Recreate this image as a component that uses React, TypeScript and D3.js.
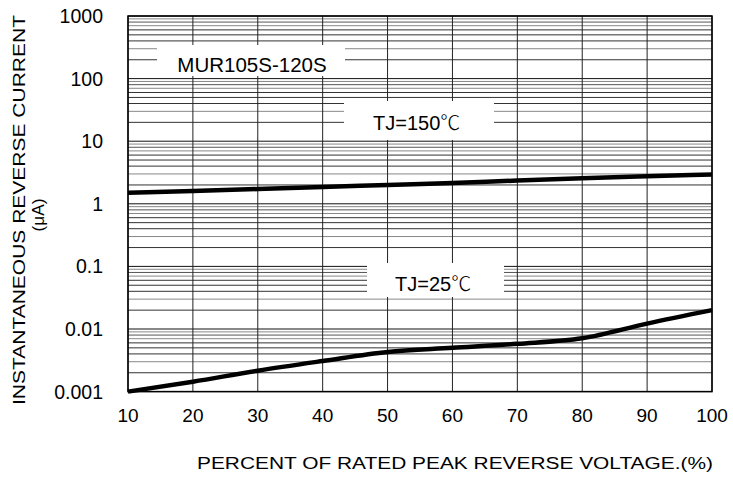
import React from 'react';
import * as d3 from 'd3';

// percent of rated peak reverse voltage
const voltage = [10, 20, 30, 40, 50, 60, 70, 80, 90, 100];
// reverse current (uA)
const tj150 = [1.5, 1.6, 1.72, 1.85, 2.0, 2.15, 2.35, 2.55, 2.75, 2.95];
const tj25 = [0.001, 0.00144, 0.00216, 0.00308, 0.0043, 0.005, 0.0058, 0.0071, 0.0122, 0.02];
const xTicks = [10, 20, 30, 40, 50, 60, 70, 80, 90, 100];
const yTicks = [0.001, 0.01, 0.1, 1, 10, 100, 1000];
const yTickLabels = ['0.001', '0.01', '0.1', '1', '10', '100', '1000'];

const font = '"Liberation Sans", Arial, sans-serif';
const cjk = '"Noto Sans CJK SC", sans-serif';

// 小刻度线颜色
const minorColor: Record<number, string> = {
  2: '#333', 3: '#888', 4: '#333', 5: '#333', 6: '#333', 7: '#888', 8: '#555', 9: '#888'
};

const left = 128;
const right = 712;
const top = 16;
const bottom = 391.6;

export default function App() {
  const x = d3.scaleLinear().domain([10, 100]).range([left, right]);
  const y = d3.scaleLog().domain([0.001, 1000]).range([bottom, top]);

  const minors: number[] = [];
  for (let e = -3; e < 3; e++) {
    for (let m = 2; m <= 9; m++) minors.push(m * Math.pow(10, e));
  }

  const line = d3.line<number>()
    .x((d, i) => x(voltage[i]))
    .y(d => y(d))
    .curve(d3.curveMonotoneX);

  return (
    <div style={{ position: 'fixed', left: 0, top: 0 }}>
      <svg width={733} height={480} style={{ display: 'block', background: '#fff' }}>
        {/* 小网格 */}
        {minors.map((v, i) => (
          <line key={'m' + i} x1={left} x2={right} y1={y(v)} y2={y(v)}
            stroke={minorColor[Math.round(v / Math.pow(10, Math.floor(Math.log10(v) + 1e-9)))]}
            strokeWidth={1} />
        ))}
        {yTicks.map((v, i) => (
          <line key={'d' + i} x1={left} x2={right} y1={y(v)} y2={y(v)} stroke="#111" strokeWidth={1} />
        ))}
        {xTicks.map((v, i) => (
          <line key={'v' + i} x1={x(v)} x2={x(v)} y1={top} y2={bottom} stroke="#222" strokeWidth={1} />
        ))}

        {/* 标签底色 */}
        <rect x={157} y={45} width={188} height={31} fill="#fff" />
        <rect x={344} y={101} width={150} height={39} fill="#fff" />
        <rect x={367} y={263} width={137} height={34} fill="#fff" />

        <rect x={left} y={top} width={right - left} height={bottom - top} fill="none" stroke="#000" strokeWidth={1.5} />

        {/* 曲线 */}
        <path d={line(tj150) || ''} fill="none" stroke="#000" strokeWidth={4.5} />
        <path d={line(tj25) || ''} fill="none" stroke="#000" strokeWidth={4.5} />

        <text x={252} y={72} fontFamily={font} fontSize={20.5} textAnchor="middle">MUR105S-120S</text>
        <text x={373} y={129.5} fontFamily={font} fontSize={20}>
          TJ=150<tspan fontFamily={cjk} fontWeight={300}>℃</tspan>
        </text>
        <text x={395} y={290.5} fontFamily={font} fontSize={20}>
          TJ=25<tspan fontFamily={cjk} fontWeight={300}>℃</tspan>
        </text>

        {/* 坐标轴文字 */}
        {yTicks.map((v, i) => (
          <text key={'yl' + i} x={103} y={y(v) + 7} fontFamily={font} fontSize={19.5} textAnchor="end">
            {yTickLabels[i]}
          </text>
        ))}
        {xTicks.map((v, i) => (
          <text key={'xl' + i} x={x(v)} y={422} fontFamily={font} fontSize={19} textAnchor="middle">{v}</text>
        ))}
        <text x={197} y={469} fontFamily={font} fontSize={17.2} textLength={516} lengthAdjust="spacingAndGlyphs">
          PERCENT OF RATED PEAK REVERSE VOLTAGE.(%)
        </text>
        <text transform="translate(25 210) rotate(-90)" fontFamily={font} fontSize={17.2} textAnchor="middle"
          textLength={390} lengthAdjust="spacingAndGlyphs">
          INSTANTANEOUS REVERSE CURRENT
        </text>
        <text transform="translate(44 215) rotate(-90)" fontFamily={font} fontSize={17.2} textAnchor="middle">
          (μA)
        </text>
      </svg>
    </div>
  );
}
